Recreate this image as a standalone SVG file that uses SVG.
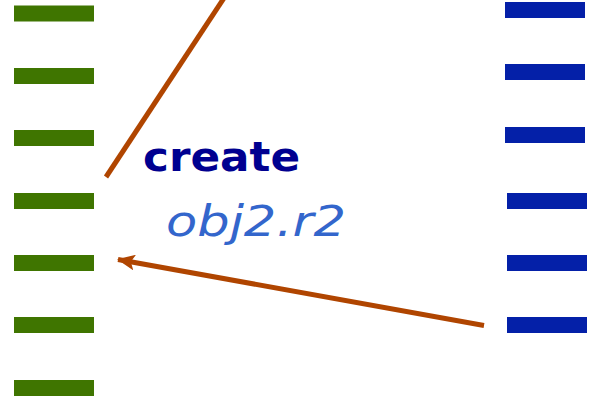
<svg xmlns="http://www.w3.org/2000/svg" width="594" height="396" viewBox="0 0 594 396">
  <defs>
    <style>
      .g { fill: #3F7500; }
      .b { fill: #0420A8; }
      .conn { stroke: #B04500; stroke-width: 5; fill: none; }
      .t1 { font-family: "Comic Sans MS", "DejaVu Sans", sans-serif; font-weight: bold; font-size: 41px; fill: #000090; }
      .t2 { font-family: "Comic Sans MS", "DejaVu Sans", sans-serif; font-style: italic; font-size: 43px; fill: #3366CC; }
    </style>
    <marker id="ah" markerWidth="18" markerHeight="16" refX="17" refY="8" orient="auto" markerUnits="userSpaceOnUse">
      <path d="M0,0 L18,8 L0,16 L4,8 Z" fill="#B04500"/>
    </marker>
  </defs>
  <rect width="594" height="396" fill="#FFFFFF"/>
  <g id="left-lifeline">
    <rect class="g" x="14" y="5.5" width="80" height="16"/>
    <rect class="g" x="14" y="68" width="80" height="16"/>
    <rect class="g" x="14" y="130" width="80" height="16"/>
    <rect class="g" x="14" y="193" width="80" height="16"/>
    <rect class="g" x="14" y="255" width="80" height="16"/>
    <rect class="g" x="14" y="317" width="80" height="16"/>
    <rect class="g" x="14" y="380" width="80" height="16"/>
  </g>
  <g id="right-lifeline">
    <rect class="b" x="505" y="2" width="80" height="16"/>
    <rect class="b" x="505" y="64" width="80" height="16"/>
    <rect class="b" x="505" y="127" width="80" height="16"/>
    <rect class="b" x="507" y="193" width="80" height="16"/>
    <rect class="b" x="507" y="255" width="80" height="16"/>
    <rect class="b" x="507" y="317" width="80" height="16"/>
  </g>
  <g id="connectors">
    <line class="conn" x1="106" y1="177" x2="224" y2="-2"/>
    <line class="conn" x1="484" y1="325.5" x2="118" y2="259.5" marker-end="url(#ah)"/>
  </g>
  <g id="label">
    <text class="t1" x="143" y="171" textLength="157" lengthAdjust="spacingAndGlyphs">create</text>
    <text class="t2" x="166" y="236" textLength="180" lengthAdjust="spacingAndGlyphs">obj2.r2</text>
  </g>
</svg>
